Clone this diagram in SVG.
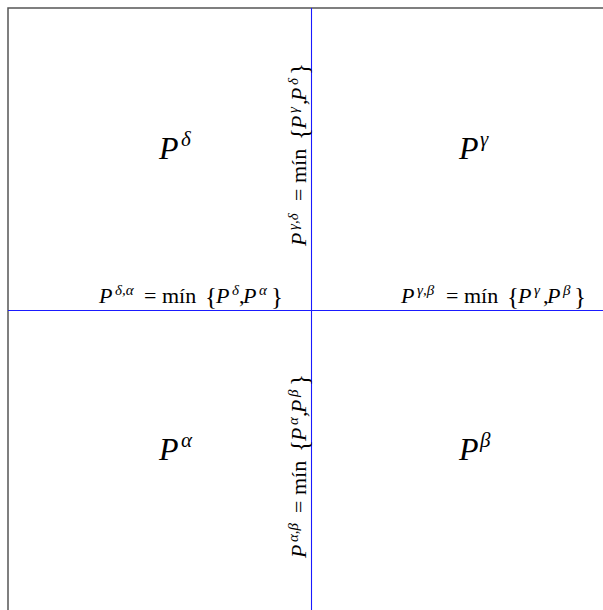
<svg xmlns="http://www.w3.org/2000/svg" width="603" height="610" viewBox="0 0 603 610">
<style>
text{font-family:"Liberation Serif","DejaVu Serif",serif;fill:#000}
.big{font-size:32px;font-style:italic}
.bsup{font-size:21px;font-style:italic}
.lbl{font-size:22px}
.i{font-style:italic}
.s{font-size:15px;font-style:italic}
.br{font-size:25px}
.frame{fill:none;stroke:#555;stroke-width:1.5}
.axis{fill:none;stroke:#1a1aff;stroke-width:1.1}
</style>
<rect width="603" height="610" fill="#fff"/>
<path class="frame" d="M8,610 V8 H603"/>
<g id="connectors">
<line class="axis" x1="311.5" y1="8" x2="311.5" y2="610"/>
<line class="axis" x1="8" y1="310.5" x2="603" y2="310.5"/>
</g>
<g id="q-delta"><text class="big" x="159" y="159">P<tspan class="bsup" x="181" dy="-13">δ</tspan></text></g>
<g id="q-gamma"><text class="big" x="459" y="159">P<tspan class="bsup" x="480" dy="-13">γ</tspan></text></g>
<g id="q-alpha"><text class="big" x="159" y="460">P<tspan class="bsup" x="181" dy="-13">α</tspan></text></g>
<g id="q-beta"><text class="big" x="459" y="460">P<tspan class="bsup" x="480" dy="-13">β</tspan></text></g>
<g id="lbl-da" transform="translate(99,303)">
<text class="lbl"><tspan class="i" x="0">P</tspan><tspan class="s" x="16" y="-8">δ,α</tspan><tspan x="45" y="0">= mín</tspan><tspan class="br" x="106" y="2">{</tspan><tspan class="i" x="117" y="0">P</tspan><tspan class="s" x="133" y="-8">δ</tspan><tspan x="140" y="0">,</tspan><tspan class="i" x="144">P</tspan><tspan class="s" x="160" y="-8">α</tspan><tspan class="br" x="172" y="2">}</tspan></text>
</g>
<g id="lbl-gb" transform="translate(401,303)">
<text class="lbl"><tspan class="i" x="0">P</tspan><tspan class="s" x="16" y="-8">γ,β</tspan><tspan x="45" y="0">= mín</tspan><tspan class="br" x="106" y="2">{</tspan><tspan class="i" x="117" y="0">P</tspan><tspan class="s" x="133" y="-8">γ</tspan><tspan x="142" y="0">,</tspan><tspan class="i" x="146">P</tspan><tspan class="s" x="162" y="-8">β</tspan><tspan class="br" x="173" y="2">}</tspan></text>
</g>
<g id="lbl-gd" transform="translate(306,246) rotate(-90)">
<text class="lbl"><tspan class="i" x="0">P</tspan><tspan class="s" x="16" y="-8">γ,δ</tspan><tspan x="45" y="0">= mín</tspan><tspan class="br" x="106" y="2">{</tspan><tspan class="i" x="117" y="0">P</tspan><tspan class="s" x="133" y="-8">γ</tspan><tspan x="141" y="0">,</tspan><tspan class="i" x="145">P</tspan><tspan class="s" x="161" y="-8">δ</tspan><tspan class="br" x="171" y="2">}</tspan></text>
</g>
<g id="lbl-ab" transform="translate(306,558) rotate(-90)">
<text class="lbl"><tspan class="i" x="0">P</tspan><tspan class="s" x="16" y="-8">α,β</tspan><tspan x="45" y="0">= mín</tspan><tspan class="br" x="106" y="2">{</tspan><tspan class="i" x="117" y="0">P</tspan><tspan class="s" x="133" y="-8">α</tspan><tspan x="141" y="0">,</tspan><tspan class="i" x="145">P</tspan><tspan class="s" x="161" y="-8">β</tspan><tspan class="br" x="172" y="2">}</tspan></text>
</g>
</svg>
